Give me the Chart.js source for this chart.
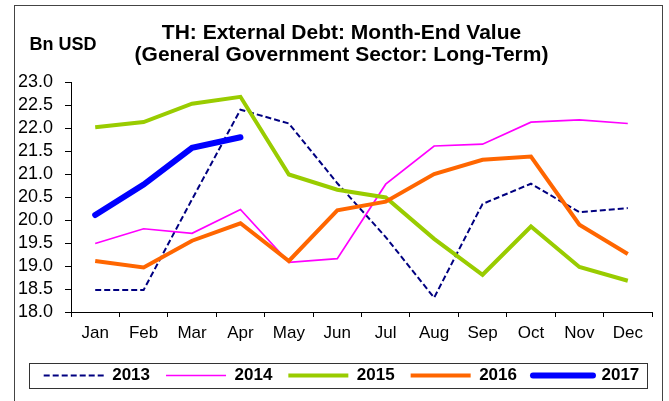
<!DOCTYPE html>
<html>
<head>
<meta charset="utf-8">
<script src="https://cdn.jsdelivr.net/npm/chart.js@4"></script>
<style>
  body { margin: 0; background: #fff; }
  #wrap { width: 669px; height: 401px; position: relative; }
</style>
</head>
<body>
<div id="wrap"><canvas id="myChart"></canvas></div>
<script>
const months = ['Jan', 'Feb', 'Mar', 'Apr', 'May', 'Jun', 'Jul', 'Aug', 'Sep', 'Oct', 'Nov', 'Dec']
const d2013 = [18.48, 18.48, 20.45, 22.40, 22.10, 20.80, 19.63, 18.31, 20.35, 20.79, 20.17, 20.26]
const d2014 = [19.49, 19.81, 19.71, 20.23, 19.08, 19.16, 20.78, 21.61, 21.65, 22.13, 22.18, 22.10]
const d2015 = [22.02, 22.13, 22.53, 22.68, 20.99, 20.66, 20.49, 19.59, 18.81, 19.86, 18.98, 18.68]
const d2016 = [19.11, 18.97, 19.55, 19.93, 19.11, 20.21, 20.40, 21.00, 21.31, 21.38, 19.90, 19.26]
const d2017 = [20.11, 20.77, 21.57, 21.80]
const yTicks = [18.0, 18.5, 19.0, 19.5, 20.0, 20.5, 21.0, 21.5, 22.0, 22.5, 23.0]
const unitLabel = 'Bn USD'

Chart.defaults.font.family = "'Liberation Sans', Arial, sans-serif"
Chart.defaults.color = '#000'

// frame + unit text + legend box
const extras = {
    id: 'extras',
    afterDraw(chart) {
        const ctx = chart.ctx
        ctx.save()
        ctx.strokeStyle = '#444'
        ctx.lineWidth = 1
        ctx.strokeRect(14.5, 5.5, 648, 420)

        ctx.font = "bold 18px 'Liberation Sans', Arial, sans-serif"
        ctx.fillStyle = '#000'
        ctx.textAlign = 'center'
        ctx.textBaseline = 'middle'
        ctx.fillText(unitLabel, 63, 45)

        const boxes = chart.legend.legendHitBoxes
        if (boxes.length) {
            let l = Math.min(...boxes.map(b => b.left))
            let r = Math.max(...boxes.map(b => b.left + b.width))
            let cy = boxes[0].top + boxes[0].height / 2
            ctx.strokeStyle = '#333'
            ctx.strokeRect(Math.round(l - 15) + 0.5, Math.round(cy - 12.5) + 0.5, Math.round(r - l + 22), 25)
        }
        ctx.restore()
    }
}

const ctx = document.getElementById('myChart')
let chart = new Chart(ctx, {
    type: 'line',
    data: {
        labels: months,
        datasets: [
            { label: '2013', data: d2013, borderColor: '#000080', borderWidth: 2, borderDash: [6, 3], order: 5 },
            { label: '2014', data: d2014, borderColor: '#FF00FF', borderWidth: 1.7, order: 4 },
            { label: '2015', data: d2015, borderColor: '#99CC00', borderWidth: 4, order: 3 },
            { label: '2016', data: d2016, borderColor: '#FF6600', borderWidth: 4, order: 2 },
            { label: '2017', data: d2017, borderColor: '#0000FF', borderWidth: 6, borderCapStyle: 'round', order: 1 }
        ]
    },
    options: {
        responsive: true,
        maintainAspectRatio: false,
        animation: false,
        layout: { padding: { left: 14, right: 0, top: 0, bottom: 7 } },
        elements: {
            point: { radius: 0, hoverRadius: 0 },
            line: { tension: 0, fill: false }
        },
        scales: {
            x: {
                type: 'category',
                offset: true,
                grid: { offset: true, drawOnChartArea: false, tickLength: 5, color: '#000' },
                border: { color: '#000' },
                ticks: { font: { size: 17 }, padding: 6, maxRotation: 0, autoSkip: false },
                afterFit: s => { s.height = 39 }
            },
            y: {
                min: 18,
                max: 23,
                afterBuildTicks: s => { s.ticks = yTicks.map(v => ({ value: v })) },
                grid: { drawOnChartArea: false, tickLength: 6, color: '#000' },
                border: { color: '#000' },
                ticks: { font: { size: 18 }, padding: 12, autoSkip: false, callback: v => Number(v).toFixed(1) },
                afterFit: s => { s.width = 57 }
            },
            yR: {
                position: 'right',
                display: true,
                grid: { display: false },
                border: { display: false },
                ticks: { display: false },
                afterFit: s => { s.width = 17 }
            }
        },
        plugins: {
            title: {
                display: true,
                text: ['TH: External Debt: Month-End Value', '(General Government Sector: Long-Term)'],
                font: { size: 21, weight: 'bold', lineHeight: 1.05 },
                color: '#000',
                padding: { top: 22, bottom: 16 }
            },
            legend: {
                position: 'bottom',
                labels: {
                    usePointStyle: true,
                    pointStyle: 'line',
                    pointStyleWidth: 60,
                    boxHeight: 17,
                    padding: 16,
                    font: { size: 17, weight: 'bold' },
                    color: '#000',
                    generateLabels: c => c.data.datasets.map((ds, i) => ({
                        text: ds.label,
                        strokeStyle: ds.borderColor,
                        fillStyle: ds.borderColor,
                        lineWidth: ds.borderWidth,
                        lineDash: ds.borderDash || [],
                        lineCap: ds.borderCapStyle || 'butt',
                        pointStyle: 'line',
                        hidden: false,
                        datasetIndex: i,
                        fontColor: '#000'
                    }))
                }
            },
            tooltip: { enabled: false }
        }
    },
    plugins: [extras]
})
</script>
</body>
</html>
